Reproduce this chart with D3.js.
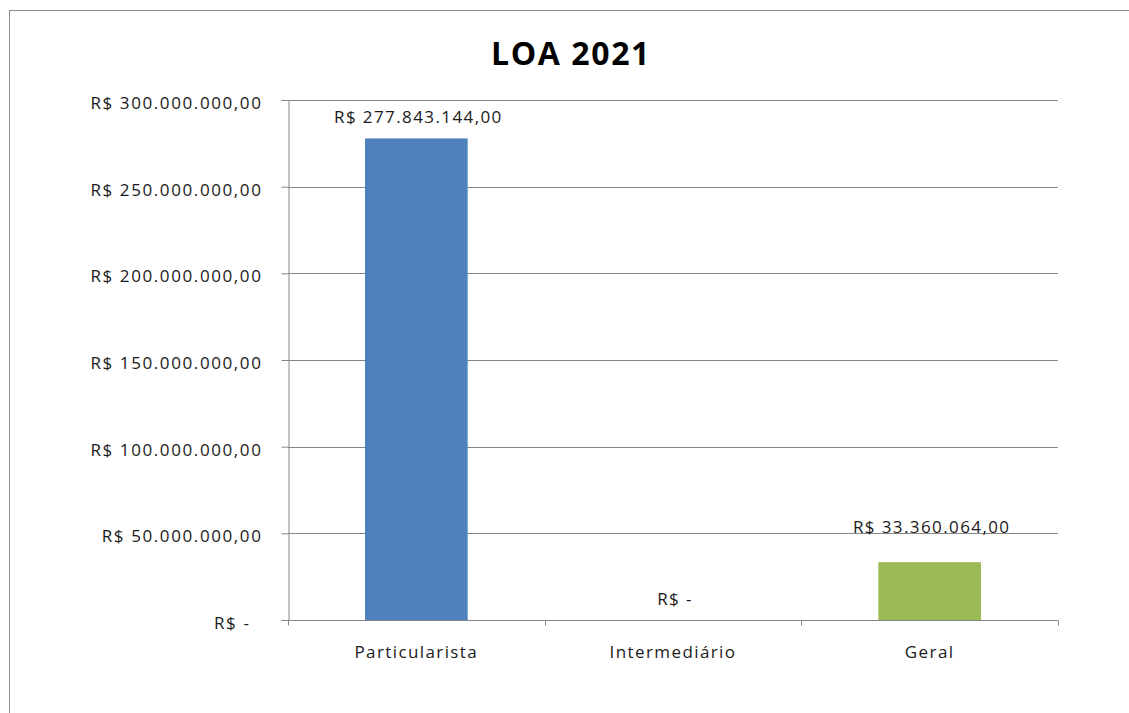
<!DOCTYPE html>
<html>
<head>
<meta charset="utf-8">
<script src="https://cdn.jsdelivr.net/npm/d3@7"></script>
<style>
  body { margin: 0; background: #fff; }
  svg { display: block; }
  text { font-family: "Open Sans", "Noto Sans", sans-serif; fill: #1a1a1a; }
</style>
</head>
<body>
<div id="chart"></div>
<script>
const categories = ["Particularista", "Intermediário", "Geral"];
const values = [277843144, 0, 33360064];
const barColors = ["#4F81BD", "#C0504D", "#9BBB59"];
const yTicks = [0, 50e6, 100e6, 150e6, 200e6, 250e6, 300e6];
const chartTitle = "LOA 2021";

// label lift above bar (Geral label was dragged up in the original)
const labelLift = { "Particularista": 15, "Intermediário": 15, "Geral": 29 };

const W = 1129, H = 713;
const margin = { top: 100, right: 71, bottom: 93, left: 288 };
const plotW = W - margin.left - margin.right;
const plotH = H - margin.top - margin.bottom;

const br = d3.formatLocale({
  decimal: ",", thousands: ".", grouping: [3], currency: ["R$ ", ""]
});
const money = br.format("$,.2f");
const fmt = v => v === 0 ? "R$ -\u00a0\u00a0" : money(v);

const svg = d3.select("#chart")
  .append("svg")
  .attr("width", W)
  .attr("height", H);

// chart frame (runs off the right/bottom edge)
svg.append("rect")
  .attr("x", 9.5)
  .attr("y", 10.5)
  .attr("width", 1300)
  .attr("height", 900)
  .attr("fill", "none")
  .attr("stroke", "#8c8c8c")
  .attr("stroke-width", 1);

svg.append("text")
  .attr("x", 571)
  .attr("y", 65)
  .attr("text-anchor", "middle")
  .style("font-size", "32px")
  .style("font-weight", "bold")
  .style("letter-spacing", "1.6px")
  .style("fill", "#000")
  .text(chartTitle);

const g = svg.append("g")
  .attr("transform", `translate(${margin.left},${margin.top})`);

const x = d3.scaleBand()
  .domain(categories)
  .range([0, plotW])
  .paddingInner(0.6)
  .paddingOuter(0.3);

const y = d3.scaleLinear()
  .domain([0, 300e6])
  .range([plotH, 0]);

// gridlines
g.append("g")
  .selectAll("line")
  .data(yTicks.filter(d => d > 0))
  .join("line")
  .attr("x1", 0)
  .attr("x2", plotW)
  .attr("y1", d => Math.round(y(d)) + 0.5)
  .attr("y2", d => Math.round(y(d)) + 0.5)
  .attr("stroke", "#868686")
  .attr("stroke-width", 1);

// y axis
const yAxis = g.append("g")
  .attr("transform", "translate(0.5,0)")
  .call(d3.axisLeft(y).tickValues(yTicks).tickSize(7).tickPadding(19).tickFormat(fmt));
yAxis.select(".domain").attr("stroke", "#868686");
yAxis.selectAll(".tick line").attr("stroke", "#868686");
yAxis.selectAll(".tick text")
  .attr("dy", "0.5em")
  .style("font-size", "17px")
  .style("letter-spacing", "1.6px")
  .style("font-family", '"Open Sans", sans-serif')
  .attr("fill", "#1a1a1a");

// bars
g.selectAll("rect.bar")
  .data(categories)
  .join("rect")
  .attr("class", "bar")
  .attr("x", d => x(d))
  .attr("width", x.bandwidth())
  .attr("y", (d, i) => y(values[i]))
  .attr("height", (d, i) => plotH - y(values[i]))
  .attr("fill", (d, i) => barColors[i]);

// x axis baseline and category boundary ticks
const xAxis = g.append("g").attr("transform", `translate(0,${plotH + 0.5})`);
xAxis.append("line")
  .attr("x1", 0)
  .attr("x2", plotW)
  .attr("stroke", "#868686");
xAxis.selectAll("line.tick")
  .data(d3.range(categories.length + 1))
  .join("line")
  .attr("class", "tick")
  .attr("x1", i => Math.round(i * x.step()) + 0.5)
  .attr("x2", i => Math.round(i * x.step()) + 0.5)
  .attr("y1", 0)
  .attr("y2", 5)
  .attr("stroke", "#868686");
xAxis.selectAll("text")
  .data(categories)
  .join("text")
  .attr("x", d => x(d) + x.bandwidth() / 2)
  .attr("y", 37)
  .attr("text-anchor", "middle")
  .style("font-size", "17px")
  .style("letter-spacing", "1.4px")
  .text(d => d);

// value labels
g.selectAll("text.val")
  .data(categories)
  .join("text")
  .attr("class", "val")
  .attr("x", d => x(d) + x.bandwidth() / 2 + 2)
  .attr("y", (d, i) => y(values[i]) - labelLift[d])
  .attr("text-anchor", "middle")
  .style("font-size", "17px")
  .style("letter-spacing", "1.4px")
  .text((d, i) => values[i] === 0 ? "R$ -" : money(values[i]));
</script>
</body>
</html>
